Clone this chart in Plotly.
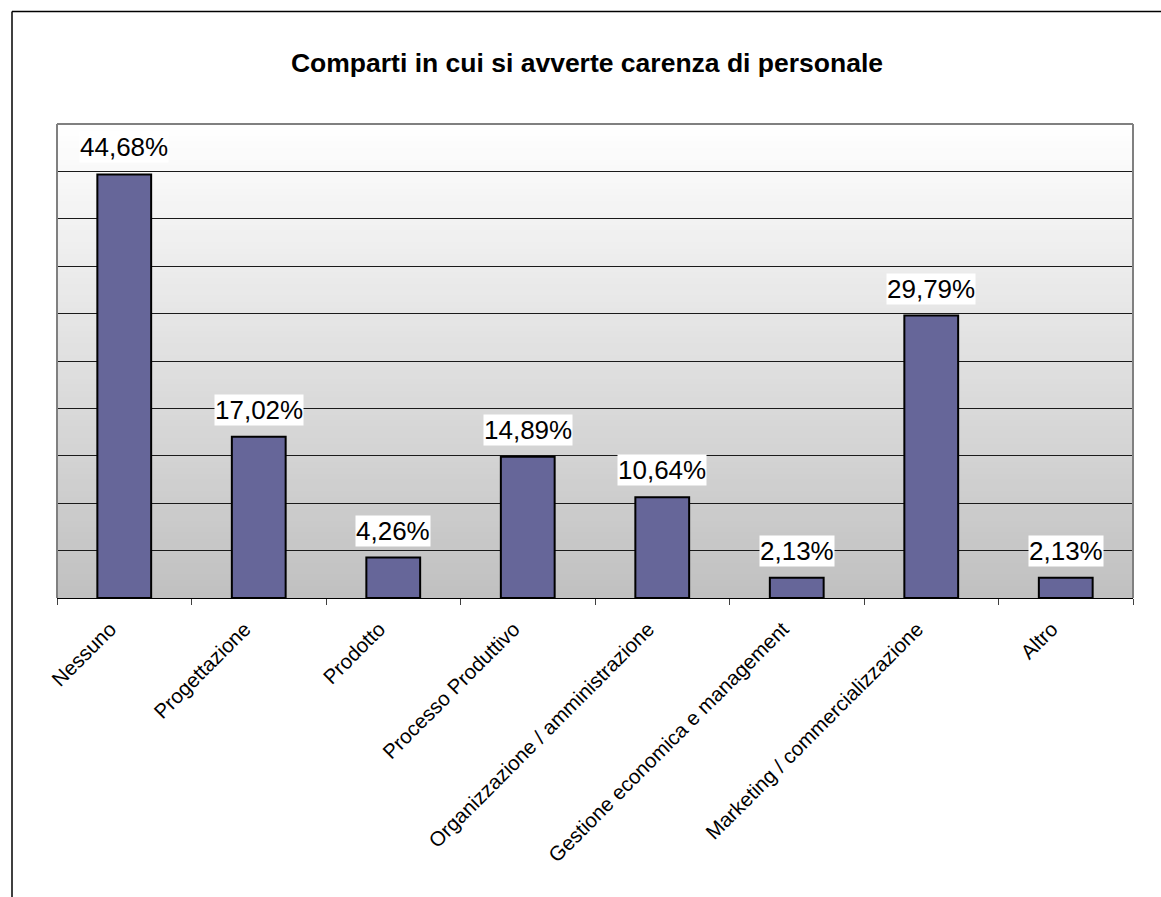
import plotly.graph_objects as go

categories = ["Nessuno", "Progettazione", "Prodotto", "Processo Produttivo",
              "Organizzazione / amministrazione", "Gestione economica e management",
              "Marketing / commercializzazione", "Altro"]
values = [44.68, 17.02, 4.26, 14.89, 10.64, 2.13, 29.79, 2.13]
labels = ["44,68%", "17,02%", "4,26%", "14,89%", "10,64%", "2,13%", "29,79%", "2,13%"]

W, H = 1161, 897
L, R, T, B = 57, 1133, 124, 598
FONT = "Arial, Liberation Sans, sans-serif"

fig = go.Figure()
fig.add_trace(go.Bar(
    x=categories, y=values, width=0.4,
    marker=dict(color="#666699", line=dict(color="#000000", width=2)),
    hoverinfo="skip",
))

shapes = []
# gradient background (white at top -> gray at bottom)
N = 80
top = (255, 255, 255)
bot = (192, 192, 192)
for i in range(N):
    t = (i + 0.5) / N  # 0 bottom -> 1 top
    c = tuple(int(round(bot[k] + (top[k] - bot[k]) * t)) for k in range(3))
    shapes.append(dict(type="rect", xref="paper", yref="paper",
                       x0=0, x1=1, y0=i / N, y1=(i + 1) / N + 0.002,
                       fillcolor="rgb(%d,%d,%d)" % c, line=dict(width=0),
                       layer="below"))
# plot area border (gray) on left, top, right
shapes.append(dict(type="line", xref="paper", yref="paper", x0=0, x1=0, y0=0, y1=1,
                   line=dict(color="#808080", width=2), layer="above"))
shapes.append(dict(type="line", xref="paper", yref="paper", x0=1, x1=1, y0=0, y1=1,
                   line=dict(color="#808080", width=2), layer="above"))
shapes.append(dict(type="line", xref="paper", yref="paper", x0=0, x1=1, y0=1, y1=1,
                   line=dict(color="#808080", width=2), layer="above"))

# outer chart border (black) on left and top
pw, ph = R - L, B - T
def px_x(p):
    return (p - L) / pw
def px_y(p):
    return (B - p) / ph
shapes.append(dict(type="line", xref="paper", yref="paper",
                   x0=px_x(12), x1=px_x(W + 5), y0=px_y(11.5), y1=px_y(11.5),
                   line=dict(color="#000000", width=1.5)))
shapes.append(dict(type="line", xref="paper", yref="paper",
                   x0=px_x(12), x1=px_x(12), y0=px_y(11.5), y1=px_y(H + 5),
                   line=dict(color="#000000", width=1.5)))

annotations = []
for c, v, lab in zip(categories, values, labels):
    annotations.append(dict(x=c, y=v, xref="x", yref="y", text=lab,
                            showarrow=False, yanchor="bottom", yshift=11,
                            bgcolor="#ffffff", borderpad=0,
                            font=dict(family=FONT, size=26, color="#000000")))

fig.update_layout(
    width=W, height=H,
    margin=dict(l=L, r=W - R, t=T, b=H - B, autoexpand=False),
    paper_bgcolor="#ffffff",
    plot_bgcolor="rgba(0,0,0,0)",
    showlegend=False,
    bargap=0.6,
    title=dict(text="<b>Comparti in cui si avverte carenza di personale</b>",
               x=(587 - L) / pw, xref="paper", xanchor="center",
               y=1 - 63 / H, yref="container", yanchor="middle",
               font=dict(family=FONT, size=26.5, color="#000000")),
    xaxis=dict(showline=True, linecolor="#000000", linewidth=1,
               ticks="outside", tickson="boundaries", ticklen=6,
               tickcolor="#404040", tickwidth=1,
               tickangle=-45, showgrid=False,
               ticklabelstandoff=10, ticklabelshift=-14,
               tickfont=dict(family=FONT, size=20.5, color="#000000")),
    yaxis=dict(range=[0, 50], dtick=5, showticklabels=False, ticks="",
               showgrid=True, gridcolor="#1a1a1a", gridwidth=1,
               zeroline=False, showline=False),
    shapes=shapes,
    annotations=annotations,
)

fig.write_html("out.html")
